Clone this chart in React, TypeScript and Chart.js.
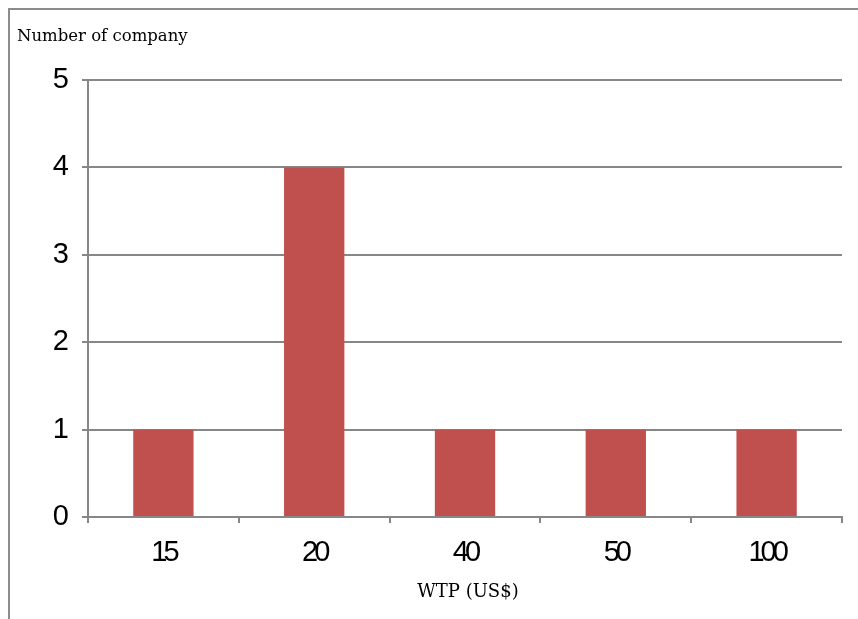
import React, { useEffect, useRef } from "react";
import { Chart, registerables } from "chart.js";

Chart.register(...registerables);

const categories = ["15", "20", "40", "50", "100"];
const companyCounts = [1, 4, 1, 1, 1];
const chartTitle = "Number of company";
const xAxisTitle = "WTP (US$)";

const GRID = "#878787";

const textPlugin = {
  id: "textPlugin",
  beforeDraw(chart: any) {
    chart.ctx.letterSpacing = "-4px";
  },
  afterDraw(chart: any) {
    const ctx = chart.ctx;
    ctx.save();
    ctx.letterSpacing = "0px";
    ctx.fillStyle = "#000";
    ctx.textBaseline = "alphabetic";
    ctx.font = "16.5px 'DejaVu Serif', serif";
    ctx.textAlign = "left";
    ctx.fillText(chartTitle, 7, 31);
    ctx.font = "18px 'DejaVu Serif', serif";
    ctx.textAlign = "center";
    const a = chart.chartArea;
    ctx.fillText(xAxisTitle, (a.left + a.right) / 2 + 3, 587);
    ctx.restore();
  },
};

export default function App() {
  const ref = useRef<HTMLCanvasElement | null>(null);

  useEffect(() => {
    if (!ref.current) return;
    const chart = new Chart(ref.current, {
      type: "bar",
      data: {
        labels: categories,
        datasets: [
          {
            data: companyCounts,
            backgroundColor: "#c0504d",
            borderWidth: 0,
            categoryPercentage: 1,
            barPercentage: 0.4,
          },
        ],
      },
      options: {
        animation: false,
        responsive: false,
        devicePixelRatio: 1,
        layout: { padding: { left: 5, right: 16, top: 70, bottom: 0 } },
        plugins: {
          legend: { display: false },
          tooltip: { enabled: false },
          title: { display: false },
        },
        scales: {
          x: {
            afterFit: (s: any) => {
              s.height = 102;
            },
            grid: {
              drawOnChartArea: false,
              drawTicks: true,
              tickLength: 6,
              color: GRID,
              lineWidth: 2,
            },
            border: { color: GRID, width: 2 },
            ticks: {
              color: "#000",
              padding: 13,
              font: { family: "'Liberation Sans', sans-serif", size: 29 },
            },
          },
          y: {
            min: 0,
            max: 5,
            afterFit: (s: any) => {
              s.width = 73;
            },
            grid: {
              color: GRID,
              lineWidth: 2,
              tickLength: 6,
            },
            border: { color: GRID, width: 2 },
            ticks: {
              stepSize: 1,
              color: "#000",
              padding: 17,
              font: { family: "'Liberation Sans', sans-serif", size: 29 },
            },
          },
        },
      },
      plugins: [textPlugin],
    });
    return () => chart.destroy();
  }, []);

  return (
    <div
      style={{
        position: "fixed",
        left: 8,
        top: 8,
        width: 848,
        height: 609,
        border: "2px solid #8c8c8c",
        background: "#fff",
      }}
    >
      <canvas ref={ref} width={848} height={609} style={{ display: "block" }} />
    </div>
  );
}
